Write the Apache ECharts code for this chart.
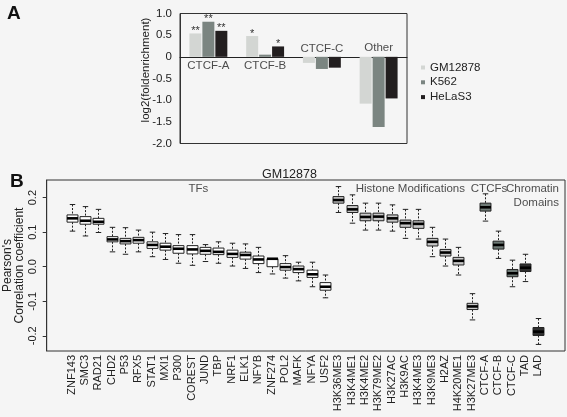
<!DOCTYPE html>
<html>
<head>
<meta charset="utf-8">
<script src="https://cdn.jsdelivr.net/npm/echarts@6/dist/echarts.min.js"></script>
<style>html,body{margin:0;padding:0;background:#f5f5f5}#c{width:567px;height:417px}</style>
</head>
<body>
<div id="c"></div>
<script>
// ---------- Panel A data ----------
var catsA = ['CTCF-A', 'CTCF-B', 'CTCF-C', 'Other'];
var seriesNamesA = ['GM12878', 'K562', 'HeLaS3'];
var gmA = [0.54, 0.48, -0.14, -1.08];
var k562A = [0.81, 0.05, -0.28, -1.62];
var helaA = [0.60, 0.24, -0.25, -0.96];
var sigGM = ['**', '*', '', ''];
var sigK562 = ['**', '', '', ''];
var sigHela = ['**', '*', '', ''];
var yTicksA = [-2, -1.5, -1, -0.5, 0, 0.5, 1];

// ---------- Panel B data ----------
var catsB = ['ZNF143','SMC3','RAD21','CHD2','P53','RFX5','STAT1','MXI1','P300','COREST',
  'JUND','TBP','NRF1','ELK1','NFYB','ZNF274','POL2','MAFK','NFYA','USF2',
  'H3K36ME3','H3K4ME1','H3K4ME2','H3K79ME2','H3K27AC','H3K9AC','H3K4ME3','H3K9ME3','H2AZ','H4K20ME1','H3K27ME3',
  'CTCF-A','CTCF-B','CTCF-C','TAD','LAD'];
var groupB = [0,0,0,0,0,0,0,0,0,0, 0,0,0,0,0,0,0,0,0,0, 1,1,1,1,1,1,1,1,1,1,1, 2,2,2, 3,3];
var groupNames = ['TFs', 'Histone Modifications', 'CTCFs', 'Chromatin\nDomains'];
var lowB = [0.103,0.089,0.099,0.043,0.036,0.043,0.029,0.021,0.010,0.004,
  0.015,0.010,0.002,-0.005,-0.017,-0.021,-0.033,-0.041,-0.058,-0.090,
  0.157,0.126,0.106,0.106,0.103,0.082,0.080,0.029,0.002,-0.024,-0.154,
  0.132,0.024,-0.058,-0.043,-0.225];
var q1B = [0.129,0.123,0.123,0.072,0.066,0.068,0.053,0.048,0.039,0.037,
  0.036,0.035,0.027,0.022,0.009,0.000,-0.010,-0.017,-0.031,-0.068,
  0.184,0.157,0.133,0.133,0.129,0.114,0.111,0.060,0.031,0.005,-0.124,
  0.161,0.051,-0.029,-0.014,-0.199];
var medB = [0.140,0.133,0.130,0.079,0.074,0.077,0.063,0.058,0.052,0.050,
  0.046,0.043,0.037,0.034,0.021,0.023,-0.001,-0.007,-0.022,-0.058,
  0.193,0.166,0.144,0.145,0.140,0.126,0.124,0.072,0.041,0.017,-0.115,
  0.172,0.063,-0.019,-0.003,-0.188];
var q3B = [0.150,0.145,0.140,0.087,0.082,0.085,0.072,0.068,0.061,0.061,
  0.056,0.054,0.048,0.042,0.031,0.023,0.009,0.002,-0.010,-0.046,
  0.203,0.177,0.155,0.155,0.150,0.135,0.133,0.082,0.050,0.027,-0.106,
  0.184,0.074,-0.008,0.008,-0.176];
var highB = [0.180,0.174,0.166,0.114,0.113,0.106,0.100,0.096,0.093,0.093,
  0.064,0.072,0.068,0.066,0.056,0.023,0.032,0.013,0.013,-0.024,
  0.232,0.208,0.184,0.184,0.179,0.166,0.166,0.114,0.080,0.056,-0.078,
  0.211,0.103,0.019,0.036,-0.150];
var yTicksB = [-0.2, -0.1, 0, 0.1, 0.2];

var FONT = "'Liberation Sans', Arial, sans-serif";
var groupColors = ['#ffffff', '#c8c8c8', '#6e7a76', '#2e2e2e'];

var boxData = catsB.map(function (c, i) {
  return [i, lowB[i], q1B[i], medB[i], q3B[i], highB[i]];
});

function renderBox(params, api) {
  var idx = api.value(0);
  var lo = api.coord([idx, api.value(1)]);
  var q1 = api.coord([idx, api.value(2)]);
  var md = api.coord([idx, api.value(3)]);
  var q3 = api.coord([idx, api.value(4)]);
  var hi = api.coord([idx, api.value(5)]);
  var band = api.size([1, 0])[0];
  var bw = band * 0.82;
  var cw = bw * 0.5;
  var x = Math.round(lo[0]) + 0.5;
  var fill = groupColors[groupB[idx]];
  var ws = { stroke: '#222', lineWidth: 1, lineDash: [2, 1.5] };
  var cs = { stroke: '#222', lineWidth: 1 };
  return {
    type: 'group',
    children: [
      { type: 'line', shape: { x1: x, y1: hi[1], x2: x, y2: q3[1] }, style: ws },
      { type: 'line', shape: { x1: x, y1: q1[1], x2: x, y2: lo[1] }, style: ws },
      { type: 'line', shape: { x1: x - cw / 2, y1: hi[1], x2: x + cw / 2, y2: hi[1] }, style: cs },
      { type: 'line', shape: { x1: x - cw / 2, y1: lo[1], x2: x + cw / 2, y2: lo[1] }, style: cs },
      { type: 'rect', shape: { x: x - bw / 2, y: q3[1], width: bw, height: q1[1] - q3[1] },
        style: { fill: fill, stroke: '#222', lineWidth: 1 } },
      { type: 'line', shape: { x1: x - bw / 2, y1: md[1], x2: x + bw / 2, y2: md[1] },
        style: { stroke: '#000', lineWidth: 2.6 } }
    ]
  };
}

function barSeries(name, vals, sig, color) {
  return {
    name: name, type: 'bar', xAxisIndex: 0, yAxisIndex: 0,
    data: vals, barWidth: 12, barGap: '8%',
    itemStyle: { color: color },
    label: {
      show: true, position: 'top', distance: -3,
      fontSize: 11, fontFamily: FONT, color: '#333',
      formatter: function (p) { return sig[p.dataIndex]; }
    }
  };
}

var option = {
  backgroundColor: '#f5f5f5',
  animation: false,
  textStyle: { fontFamily: FONT },
  title: [
    { text: 'A', left: 2, top: -1, textStyle: { fontFamily: FONT, fontSize: 19, fontWeight: 'bold', color: '#111' } },
    { text: 'B', left: 5, top: 167, textStyle: { fontFamily: FONT, fontSize: 19, fontWeight: 'bold', color: '#111' } },
    { text: 'GM12878', left: 257, top: 163, textStyle: { fontFamily: FONT, fontSize: 12.5, fontWeight: 'normal', color: '#222' } }
  ],
  legend: {
    data: seriesNamesA, orient: 'vertical', left: 421, top: 61.5,
    itemWidth: 4, itemHeight: 4, itemGap: 2.8, padding: 0, icon: 'rect',
    textStyle: { fontFamily: FONT, fontSize: 11.5, color: '#222' }
  },
  grid: [
    { left: 180, right: 160, top: 13.5, bottom: 273.5, show: true, borderColor: '#333', borderWidth: 1,
      backgroundColor: 'transparent', outerBoundsMode: 'none', containLabel: false },
    { left: 46.7, right: 2, top: 180, bottom: 66, show: true, borderColor: '#333', borderWidth: 1,
      backgroundColor: 'transparent', outerBoundsMode: 'none', containLabel: false },
    { left: 65, right: 22, top: 180, bottom: 66, outerBoundsMode: 'none', containLabel: false }
  ],
  xAxis: [
    { type: 'category', gridIndex: 0, data: catsA,
      axisLine: { onZero: true, lineStyle: { color: '#222', width: 1 } },
      axisTick: { show: false }, axisLabel: { show: false }, splitLine: { show: false } },
    { type: 'value', gridIndex: 1, show: false, min: 0, max: 1 },
    { type: 'category', gridIndex: 2, data: catsB,
      axisLine: { show: false }, axisTick: { show: false }, splitLine: { show: false },
      axisLabel: { rotate: 90, fontSize: 11, fontFamily: FONT, color: '#222', margin: 4, interval: 0 } },
    { type: 'value', gridIndex: 2, show: false, min: -0.5, max: 35.5 }
  ],
  yAxis: [
    { type: 'value', gridIndex: 0, min: -2, max: 1, interval: 0.5,
      name: 'log2(foldenrichment)', nameLocation: 'middle', nameGap: 28, nameRotate: 90,
      nameMoveOverlap: false,
      nameTextStyle: { fontFamily: FONT, fontSize: 11.5, color: '#222', padding: [0, 0, 0, 17] },
      axisLine: { show: true, lineStyle: { color: '#333' } }, axisTick: { show: false },
      splitLine: { show: false },
      axisLabel: { fontSize: 11.5, fontFamily: FONT, color: '#222', margin: 8,
        formatter: function (v) { return v === 0 ? '0' : v.toFixed(1); } } },
    { type: 'value', gridIndex: 1, min: -0.244, max: 0.251,
      name: "Pearson's\nCorrelation coefficient", nameLocation: 'middle', nameGap: 21, nameRotate: 90,
      nameMoveOverlap: false,
      nameTextStyle: { fontFamily: FONT, fontSize: 12, color: '#222', lineHeight: 12 },
      axisLine: { show: true, lineStyle: { color: '#333' } },
      axisTick: { show: true, length: 4, inside: false, customValues: yTicksB, lineStyle: { color: '#333' } },
      splitLine: { show: false },
      axisLabel: { rotate: 90, fontSize: 11, fontFamily: FONT, color: '#222', margin: 8, customValues: yTicksB,
        formatter: function (v) { return v.toFixed(1); } } },
    { type: 'value', gridIndex: 2, min: -0.244, max: 0.251, show: false }
  ],
  series: [
    barSeries(seriesNamesA[0], gmA, sigGM, '#d3d6d3'),
    barSeries(seriesNamesA[1], k562A, sigK562, '#7b8581'),
    barSeries(seriesNamesA[2], helaA, sigHela, '#221e1f'),
    { type: 'scatter', xAxisIndex: 0, yAxisIndex: 0, symbolSize: 0, silent: true, clip: false,
      data: [[0, -0.21], [1, -0.21], [2, 0.18], [3, 0.2]],
      label: { show: true, position: 'inside', fontSize: 11.5, fontFamily: FONT, color: '#222',
        formatter: function (p) { return catsA[p.dataIndex]; } } },
    { type: 'custom', xAxisIndex: 2, yAxisIndex: 2, renderItem: renderBox, data: boxData,
      encode: { x: 0, y: [1, 2, 3, 4, 5] }, clip: false, silent: true },
    { type: 'scatter', xAxisIndex: 3, yAxisIndex: 2, symbolSize: 0, silent: true, clip: false,
      data: [
        { value: [9.5, 0.225], label: { align: 'center' } },
        { value: [25.4, 0.225], label: { align: 'center' } },
        { value: [31.3, 0.225], label: { align: 'center' } },
        { value: [36.55, 0.205], label: { align: 'right' } }
      ],
      label: { show: true, position: 'inside', fontSize: 11.5, fontFamily: FONT, color: '#222', lineHeight: 13.5,
        formatter: function (p) { return groupNames[p.dataIndex]; } } }
  ]
};

var chart = echarts.init(document.getElementById('c'), null, { renderer: 'canvas' });
chart.setOption(option);
</script>
</body>
</html>
